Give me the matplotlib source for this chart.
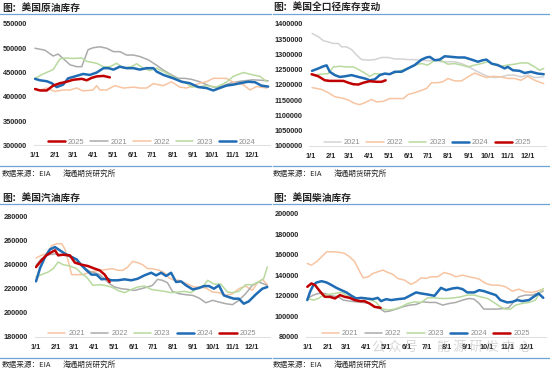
import matplotlib
matplotlib.use('Agg')
import matplotlib.pyplot as plt
from matplotlib.lines import Line2D
from matplotlib.ticker import FuncFormatter
import numpy as np

W, H = 550, 371
fig = plt.figure(figsize=(5.5, 3.71), dpi=100)

CJK = ['Noto Sans CJK SC', 'DejaVu Sans']
LAT = 'Liberation Sans'

month_days = [0, 31, 59, 90, 120, 151, 181, 212, 243, 273, 304, 334]
month_labels = ['1/1', '2/1', '3/1', '4/1', '5/1', '6/1', '7/1', '8/1', '9/1', '10/1', '11/1', '12/1']

# ---------------- Crude oil inventory (weeks since 1/1, values) ----------------
crude_2021_wk = [0, 2.2, 4.0, 5.1, 6.2, 7.7, 9.2, 10.3, 11.7, 12.8, 14.3, 15.8, 17.3, 18.7, 20.2, 21.7, 23.1, 25.0, 26.8, 28.3, 30.1, 31.6, 33.0, 34.5, 36.3, 37.8, 39.3, 40.7, 43.0, 45.2, 48.1, 51.4]
crude_2021 = [500000, 496000, 484000, 488000, 479000, 466000, 462000, 462000, 497000, 501000, 503000, 500000, 493000, 493000, 486000, 486000, 483000, 476000, 465000, 455000, 445000, 438000, 438000, 436000, 431000, 425000, 420000, 420000, 428000, 432000, 435000, 433000]
crude_2022_wk = [0, 1.1, 2.6, 4.4, 6.2, 7.7, 9.2, 10.6, 12.8, 13.6, 14.3, 15.8, 17.6, 19.5, 21.7, 23.1, 24.6, 26.1, 28.3, 30.1, 31.9, 33.4, 36.3, 37.8, 39.3, 40.7, 42.2, 43.7, 45.9, 47.4, 48.8, 51.1]
crude_2022 = [416000, 414000, 418000, 411000, 414000, 414000, 418000, 412000, 414000, 423000, 414000, 414000, 423000, 418000, 420000, 418000, 418000, 427000, 423000, 431000, 420000, 418000, 428000, 431000, 438000, 438000, 438000, 430000, 425000, 414000, 421000, 418000]
crude_2023_wk = [0, 1.8, 4.0, 5.5, 6.6, 8.4, 10.3, 11.4, 13.6, 15.1, 16.5, 18.0, 19.5, 21.3, 22.4, 23.9, 25.3, 26.8, 28.3, 30.1, 31.9, 33.4, 34.5, 36.3, 37.8, 40.0, 42.2, 43.7, 45.9, 48.1, 49.6, 51.1]
crude_2023 = [438000, 447000, 456000, 478000, 480000, 479000, 480000, 473000, 469000, 462000, 462000, 469000, 459000, 462000, 468000, 459000, 454000, 459000, 452000, 443000, 434000, 428000, 420000, 421000, 423000, 420000, 430000, 442000, 450000, 445000, 442000, 431000]
crude_2024_wk = [0, 1.1, 2.6, 3.7, 4.8, 6.2, 7.3, 8.8, 10.6, 12.1, 13.6, 15.1, 16.2, 17.3, 18.7, 20.2, 21.7, 23.1, 24.6, 26.1, 26.8, 28.3, 30.5, 32.3, 34.1, 36.0, 37.8, 39.3, 40.7, 42.2, 43.7, 45.2, 47.0, 48.5, 49.9, 51.4]
crude_2024 = [437000, 434000, 432000, 428000, 420000, 425000, 438000, 442000, 447000, 445000, 450000, 459000, 459000, 456000, 462000, 459000, 459000, 456000, 459000, 459000, 452000, 445000, 438000, 431000, 428000, 420000, 418000, 413000, 418000, 423000, 425000, 428000, 431000, 430000, 423000, 421000]
crude_2025_wk = [0, 1.1, 2.6, 4.0, 5.5, 7.0, 8.4, 10.3, 11.4, 12.5, 13.6, 15.1, 16.5]
crude_2025 = [416000, 413000, 413000, 423000, 428000, 431000, 435000, 437000, 434000, 439000, 442000, 443000, 440000]

# ---------------- Total petroleum inventory ----------------
total_2021_wk = [0.3, 1.7, 2.8, 3.9, 5.0, 6.1, 6.8, 7.9, 9.0, 10.1, 11.2, 12.7, 14.1, 15.6, 17.1, 18.5, 20.0, 21.4, 22.9, 24.4, 25.8, 27.3, 28.8, 30.2, 31.7, 33.2, 34.6, 36.1, 37.6, 39.0, 40.5, 41.9, 43.4, 44.9, 46.3, 47.8, 49.3, 51.3]
total_2021 = [1369000, 1358000, 1345000, 1341000, 1336000, 1336000, 1325000, 1325000, 1316000, 1298000, 1283000, 1281000, 1283000, 1290000, 1290000, 1285000, 1285000, 1283000, 1283000, 1281000, 1279000, 1281000, 1276000, 1276000, 1276000, 1270000, 1261000, 1248000, 1237000, 1228000, 1224000, 1226000, 1232000, 1232000, 1226000, 1232000, 1224000, 1226000]
total_2022_wk = [0.3, 2.4, 3.9, 5.3, 6.8, 8.3, 9.7, 10.8, 11.9, 13.4, 14.5, 16.0, 17.4, 18.9, 20.4, 21.4, 22.9, 24.4, 25.5, 26.6, 28.0, 29.1, 30.2, 31.7, 33.2, 34.6, 36.1, 37.2, 38.7, 40.1, 41.9, 43.4, 44.9, 46.3, 47.8, 49.3, 51.3]
total_2022 = [1191000, 1185000, 1174000, 1161000, 1157000, 1150000, 1139000, 1135000, 1141000, 1152000, 1144000, 1146000, 1155000, 1155000, 1155000, 1168000, 1174000, 1182000, 1188000, 1207000, 1207000, 1210000, 1221000, 1213000, 1213000, 1226000, 1239000, 1232000, 1224000, 1228000, 1226000, 1221000, 1221000, 1215000, 1228000, 1215000, 1204000]
total_2023_wk = [0.2, 2.4, 3.9, 5.0, 6.4, 7.9, 9.4, 10.8, 11.9, 13.0, 14.1, 15.6, 17.1, 18.5, 20.0, 21.4, 22.9, 24.4, 25.8, 27.3, 28.8, 30.2, 31.7, 33.2, 34.6, 36.1, 37.6, 39.0, 40.5, 41.9, 43.4, 44.9, 46.3, 47.8, 49.3, 50.4, 51.3]
total_2023 = [1232000, 1235000, 1237000, 1259000, 1261000, 1259000, 1259000, 1248000, 1239000, 1228000, 1237000, 1235000, 1235000, 1239000, 1248000, 1254000, 1265000, 1270000, 1265000, 1281000, 1279000, 1268000, 1270000, 1265000, 1259000, 1265000, 1270000, 1276000, 1265000, 1261000, 1265000, 1268000, 1272000, 1272000, 1259000, 1248000, 1254000]
total_2024_wk = [0.3, 1.7, 2.8, 3.5, 4.2, 5.3, 6.4, 7.5, 9.0, 10.5, 11.9, 13.0, 14.1, 15.2, 16.3, 17.4, 18.5, 20.0, 21.4, 22.9, 24.4, 25.5, 26.2, 27.3, 28.4, 29.5, 31.0, 32.4, 33.9, 35.4, 36.8, 37.9, 38.7, 39.8, 41.2, 42.7, 43.4, 44.5, 46.0, 47.1, 48.5, 50.0, 51.3]
total_2024 = [1246000, 1254000, 1261000, 1264000, 1243000, 1232000, 1226000, 1228000, 1232000, 1226000, 1221000, 1215000, 1218000, 1232000, 1237000, 1235000, 1243000, 1243000, 1254000, 1265000, 1283000, 1290000, 1292000, 1281000, 1283000, 1294000, 1292000, 1290000, 1290000, 1283000, 1276000, 1281000, 1283000, 1270000, 1265000, 1254000, 1259000, 1248000, 1246000, 1239000, 1243000, 1237000, 1235000]
total_2025_wk = [0.2, 1.7, 3.1, 4.2, 5.7, 7.2, 8.3, 9.4, 10.5, 11.6, 13.0, 14.5, 15.6, 16.5]
total_2025 = [1235000, 1228000, 1215000, 1213000, 1213000, 1213000, 1207000, 1202000, 1201000, 1207000, 1212000, 1210000, 1210000, 1215000]

# ---------------- Gasoline inventory ----------------
gas_2021_wk = [0, 1.2, 2.3, 3.5, 4.6, 5.7, 6.4, 7.1, 7.9, 9.0, 10.4, 11.5, 12.6, 14.1, 15.6, 17.0, 18.1, 19.2, 20.3, 21.4, 22.5, 23.6, 24.7, 25.8, 27.3, 28.4, 29.5, 30.6, 31.7, 32.8, 33.9, 35.0, 36.1, 37.6, 39.1, 40.5, 42.0, 43.5, 44.9, 46.4, 47.9, 49.0, 50.1, 51.2]
gas_2021 = [245600, 247800, 249000, 256000, 257500, 257500, 253000, 243600, 231700, 231700, 231700, 233300, 234400, 235300, 236000, 236700, 235300, 235300, 238000, 242800, 241700, 240000, 236700, 236700, 235300, 233300, 228900, 227000, 227000, 225000, 223300, 221400, 221400, 220600, 217200, 216700, 214400, 215800, 220000, 222200, 218600, 225000, 227800, 223300]
gas_2022_wk = [0, 1.2, 2.7, 4.2, 5.7, 7.1, 8.6, 9.7, 10.8, 11.9, 13.0, 14.1, 15.2, 16.3, 17.4, 18.9, 20.3, 21.8, 23.3, 24.7, 25.8, 26.9, 28.0, 29.1, 30.2, 31.7, 33.2, 34.7, 36.1, 37.6, 39.1, 40.5, 42.0, 43.5, 44.9, 46.4, 47.9, 49.3, 51.2]
gas_2022 = [239400, 245000, 248300, 249000, 248300, 247200, 245000, 240800, 237200, 234400, 233300, 231700, 227800, 224200, 221400, 220000, 219400, 218600, 220000, 221400, 222800, 227800, 227000, 225000, 217800, 215800, 215000, 214400, 212200, 208300, 210300, 208900, 207500, 206700, 210300, 215800, 222800, 225600, 222800]
gas_2023_wk = [0, 1.2, 2.7, 3.8, 4.9, 6.0, 7.5, 9.0, 10.1, 11.2, 12.6, 14.1, 15.2, 16.7, 18.1, 19.6, 21.1, 22.5, 24.0, 25.5, 26.9, 28.4, 29.9, 31.4, 32.8, 34.3, 35.8, 37.2, 38.0, 39.4, 40.9, 42.4, 43.5, 44.9, 46.4, 47.9, 49.3, 50.4, 51.2]
gas_2023 = [229700, 231700, 233900, 236700, 242200, 240000, 238900, 236700, 232500, 229700, 222800, 223300, 222800, 221400, 218600, 216700, 219400, 221400, 222200, 219400, 218600, 217800, 216700, 217200, 217800, 216700, 220600, 222800, 227000, 223900, 223900, 217200, 216700, 217800, 223300, 223300, 225600, 228300, 238000]
gas_2024_wk = [0, 0.9, 2.0, 3.1, 4.2, 5.3, 6.4, 7.5, 9.0, 10.1, 11.2, 12.3, 13.4, 14.5, 15.6, 16.7, 18.1, 19.6, 21.1, 22.5, 24.0, 25.5, 26.6, 27.7, 28.8, 29.9, 31.0, 32.1, 33.2, 34.7, 36.1, 37.2, 38.3, 39.4, 40.5, 41.6, 42.7, 43.8, 44.9, 46.0, 47.1, 48.6, 50.1, 51.2]
gas_2024 = [226100, 237200, 246400, 252800, 254700, 251900, 249200, 247200, 244400, 239400, 235300, 231700, 231700, 227800, 228300, 227000, 227000, 227800, 227000, 228300, 231100, 233300, 231100, 233300, 230600, 233300, 225600, 226100, 222800, 219400, 220600, 222200, 222200, 220000, 222800, 214400, 213000, 211700, 211700, 207500, 209400, 215000, 220000, 221400]
gas_2025_wk = [0, 1.2, 2.3, 3.5, 4.2, 4.9, 6.0, 7.5, 8.6, 10.1, 11.5, 13.0, 14.1, 15.2, 16.3]
gas_2025 = [238000, 243600, 247800, 250600, 252000, 247800, 248300, 247800, 241700, 240000, 238900, 236700, 235300, 231700, 225600]

# ---------------- Diesel (distillate) inventory ----------------
dsl_2021_wk = [0, 0.9, 2.0, 3.1, 4.2, 5.6, 7.1, 8.1, 9.2, 10.3, 11.4, 12.1, 13.2, 14.2, 15.3, 16.4, 17.5, 18.6, 19.6, 21.1, 22.5, 23.6, 24.7, 25.8, 26.8, 28.3, 29.7, 31.2, 32.2, 33.7, 35.1, 36.2, 37.3, 38.7, 40.1, 41.6, 43.0, 44.5, 45.9, 47.3, 48.8, 49.9, 51.2]
dsl_2021 = [151600, 150000, 153300, 158100, 163000, 163000, 162400, 161400, 158100, 153300, 143500, 137600, 138600, 141800, 143500, 145100, 142800, 140900, 137000, 135300, 131100, 133700, 137600, 137000, 138600, 138600, 142800, 140900, 138600, 140200, 138600, 137600, 136300, 132100, 130400, 130400, 128800, 124600, 126500, 123900, 123300, 124600, 126500]
dsl_2022_wk = [0, 1.3, 2.4, 3.8, 5.3, 6.7, 7.8, 9.2, 10.6, 12.1, 13.5, 14.6, 15.7, 16.8, 17.8, 19.3, 20.7, 22.2, 23.6, 25.0, 26.5, 27.9, 29.4, 30.8, 32.2, 33.7, 35.1, 36.2, 37.3, 38.3, 39.8, 41.2, 42.7, 43.7, 44.8, 45.9, 47.3, 48.8, 49.9, 51.2]
dsl_2022 = [117400, 120700, 122300, 122300, 120000, 119000, 115800, 114800, 114100, 113500, 112500, 109200, 107600, 104400, 105000, 107000, 109200, 110900, 111500, 114100, 113500, 113500, 110900, 112500, 113500, 115800, 117400, 116700, 112500, 107000, 107000, 107000, 107600, 108300, 114100, 119000, 120700, 120700, 122300, 124600]
dsl_2023_wk = [0, 1.3, 2.4, 3.5, 4.5, 6.0, 7.4, 8.5, 9.6, 11.0, 12.4, 13.9, 15.0, 16.0, 17.5, 18.9, 20.4, 21.8, 23.2, 24.7, 26.1, 27.6, 29.0, 30.4, 31.9, 33.3, 34.7, 36.2, 37.6, 39.1, 40.5, 41.9, 43.0, 44.1, 45.2, 46.6, 48.1, 49.5, 50.6, 51.2]
dsl_2023 = [117400, 115800, 117400, 120700, 121300, 122300, 123300, 120700, 118000, 118000, 117400, 115800, 113500, 107600, 106000, 107000, 109200, 112500, 114100, 113500, 118000, 118000, 117400, 117400, 118000, 119000, 120700, 120700, 119000, 117400, 113500, 109200, 107000, 107000, 110900, 112500, 113500, 115800, 123900, 127200]
dsl_2024_wk = [0, 0.6, 1.3, 2.0, 3.1, 4.2, 5.3, 6.3, 7.4, 8.5, 9.6, 10.6, 11.7, 12.8, 14.2, 15.3, 16.0, 17.1, 18.2, 19.6, 21.1, 22.5, 23.6, 24.7, 26.1, 27.6, 29.0, 30.1, 31.5, 32.6, 33.7, 34.7, 36.2, 37.3, 38.3, 39.8, 40.9, 41.9, 43.4, 44.5, 45.6, 46.6, 48.1, 49.1, 50.2, 51.2]
dsl_2024 = [115800, 123900, 130400, 133000, 134300, 133000, 130400, 127800, 125500, 123300, 120000, 117400, 118000, 117400, 116700, 118000, 114800, 116700, 115800, 116700, 117400, 120700, 123300, 122300, 121300, 120000, 127800, 125500, 127200, 127800, 126500, 123300, 123300, 125500, 124600, 122300, 120700, 115800, 113500, 114100, 115800, 114800, 115800, 119000, 122300, 118000]
dsl_2025_wk = [0, 0.9, 1.7, 2.7, 3.8, 4.9, 6.0, 7.1, 8.1, 9.2, 10.3, 11.4, 12.4, 13.5, 14.6, 15.9]
dsl_2025 = [128800, 132100, 130400, 124600, 119000, 119000, 117400, 120700, 119000, 118000, 115800, 114800, 114800, 112500, 109200, 108300]

# ---------------- styles ----------------
GRAY = '#ABABAB'
LGRAY = '#D3D3D3'
PEACH = '#F7C4A2'
GREEN = '#B8DA9E'
BLUE = '#1F6CB4'
RED = '#C00000'
SEP = '#6FA3D6'
THIN, THICK = 1.1, 1.8


def px2fig(x, y):
    return x / W, 1 - y / H


def make_axes(x_day0, x_end, y_top, y_bot):
    scale = (x_end - x_day0) / 360.0
    left = x_day0 - 2 * scale
    right = x_end + 2 * scale
    ax = fig.add_axes([left / W, 1 - y_bot / H, (right - left) / W, (y_bot - y_top) / H])
    ax.set_xlim(-2, 362)
    return ax


def panel(ax, ylim, ystep, series, order, title, tx, ty, sep_x0, sep_x1, sep_y, foot_y, foot_sep_y):
    for name, wk, vals, color, lw in series:
        ax.plot(np.array(wk) * 7, vals, color=color, lw=lw, label=name, solid_capstyle='round')
    ax.set_ylim(*ylim)
    ax.set_yticks(np.arange(ylim[0], ylim[1] + 1, ystep))
    ax.yaxis.set_major_formatter(FuncFormatter(lambda v, p: '%d' % round(v)))
    ax.set_xticks(month_days)
    ax.set_xticklabels(month_labels)
    for s in ['top', 'right', 'left']:
        ax.spines[s].set_visible(False)
    ax.spines['bottom'].set_color('#E0E0E0')
    ax.spines['bottom'].set_linewidth(0.8)
    ax.tick_params(axis='both', length=0, labelsize=5.3, colors='#262626')
    ax.tick_params(axis='y', pad=5)
    ax.tick_params(axis='x', pad=5)
    for lab in ax.get_xticklabels() + ax.get_yticklabels():
        lab.set_fontfamily(LAT)
        lab.set_fontweight('bold')
    handles = {h.get_label(): h for h in ax.get_lines()}
    ax.legend([handles[o] for o in order], order, loc='lower center', ncol=5,
              frameon=False, bbox_to_anchor=(0.5, -0.06),
              prop={'family': LAT, 'size': 5.4}, handlelength=2.3,
              handletextpad=0.4, columnspacing=0.8, labelcolor='#8C8C8C')
    # title and separators
    fx, fy = px2fig(tx, ty)
    fig.text(fx, fy, title, family=CJK, fontsize=7, fontweight='bold', color='#262626',
             ha='left', va='center')
    for yy in (sep_y, foot_sep_y):
        x0, y0 = px2fig(sep_x0, yy)
        x1, _ = px2fig(sep_x1, yy)
        fig.add_artist(Line2D([x0, x1], [y0, y0], color=SEP, lw=0.9))
    fx, fy = px2fig(tx, foot_y)
    fig.text(fx, fy, '数据来源：EIA', family=CJK, fontsize=5.5, color='#262626', ha='left', va='center')
    fx, fy = px2fig(tx + 61, foot_y)
    fig.text(fx, fy, '海通期货研究所', family=CJK, fontsize=5.5, color='#262626', ha='left', va='center')


# Panel 1: crude
ax1 = make_axes(35, 268.3, 24, 145.3)
panel(ax1, (300000, 550000), 50000,
      [('2021', crude_2021_wk, crude_2021, GRAY, THIN),
       ('2022', crude_2022_wk, crude_2022, PEACH, THIN),
       ('2023', crude_2023_wk, crude_2023, GREEN, THIN),
       ('2024', crude_2024_wk, crude_2024, BLUE, THICK),
       ('2025', crude_2025_wk, crude_2025, RED, THICK)],
      ['2025', '2021', '2022', '2023', '2024'],
      '图：美国原油库存', 2, 7.5, 0, 271, 13.5, 173.7, 165.7)

# Panel 2: total
ax2 = make_axes(310.7, 544.3, 24, 145.7)
panel(ax2, (1000000, 1400000), 50000,
      [('2021', total_2021_wk, total_2021, LGRAY, THIN),
       ('2022', total_2022_wk, total_2022, PEACH, THIN),
       ('2023', total_2023_wk, total_2023, GREEN, THIN),
       ('2024', total_2024_wk, total_2024, BLUE, THICK),
       ('2025', total_2025_wk, total_2025, RED, THICK)],
      ['2021', '2022', '2023', '2024', '2025'],
      '图：美国全口径库存变动', 273, 7.5, 273, 550, 13.5, 173.7, 165.7)

# Panel 3: gasoline
ax3 = make_axes(36, 268.3, 216.7, 336.7)
panel(ax3, (180000, 280000), 20000,
      [('2021', gas_2021_wk, gas_2021, PEACH, THIN),
       ('2022', gas_2022_wk, gas_2022, GRAY, THIN),
       ('2023', gas_2023_wk, gas_2023, GREEN, THIN),
       ('2024', gas_2024_wk, gas_2024, BLUE, THICK),
       ('2025', gas_2025_wk, gas_2025, RED, THICK)],
      ['2021', '2022', '2023', '2024', '2025'],
      '图：美国汽油库存', 2, 198.3, 0, 271, 204, 365.3, 357.7)

# Panel 4: diesel
ax4 = make_axes(307.3, 544.3, 214, 336.7)
panel(ax4, (80000, 200000), 20000,
      [('2021', dsl_2021_wk, dsl_2021, PEACH, THIN),
       ('2022', dsl_2022_wk, dsl_2022, GRAY, THIN),
       ('2023', dsl_2023_wk, dsl_2023, GREEN, THIN),
       ('2024', dsl_2024_wk, dsl_2024, BLUE, THICK),
       ('2025', dsl_2025_wk, dsl_2025, RED, THICK)],
      ['2021', '2022', '2023', '2024', '2025'],
      '图：美国柴油库存', 273, 198.3, 273, 550, 204, 365.3, 357.7)

# faint watermark (overlaid on the lower-right panel, as in the source image)
wx, wy = px2fig(372, 347)
fig.text(wx, wy, '公 众 号 · 能 源 研 发 中 心', family=CJK, fontsize=9.5, color='#9A9A9A',
         alpha=0.4, ha='left', va='center', zorder=10)

fig.savefig('out.png', dpi=100, facecolor='white')
